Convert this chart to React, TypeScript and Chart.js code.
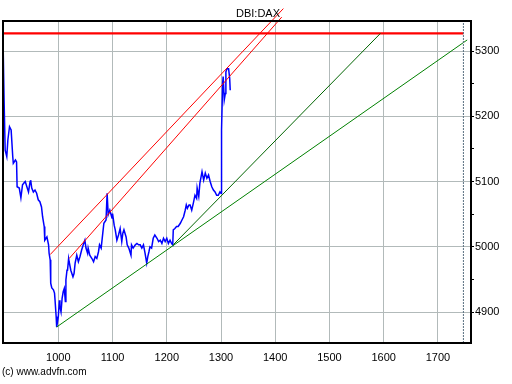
import React, { useEffect, useRef } from "react";
import { Chart, registerables } from "chart.js";

Chart.register(...registerables);

// Price series (x = trading-day index, y = DBI:DAX level)
const priceX = [
  898, 900, 902, 905, 907, 910, 913, 916, 917, 921, 923, 924, 928, 931, 934, 937, 939, 942, 945, 948,
  949, 951, 954, 957, 960, 963, 966, 969, 971, 974, 975, 979, 982, 983, 985, 986, 988, 991, 993, 994,
  996, 997, 1000, 1002, 1003, 1005, 1007, 1009, 1011, 1013, 1014, 1016, 1017, 1019, 1020, 1023, 1027, 1029, 1031, 1034,
  1037, 1040, 1043, 1046, 1049, 1051, 1054, 1055, 1058, 1062, 1065, 1068, 1071, 1074, 1076, 1079, 1082, 1084, 1088, 1090,
  1092, 1095, 1099, 1100, 1103, 1105, 1108, 1111, 1114, 1117, 1119, 1121, 1125, 1127, 1130, 1134, 1135, 1138, 1142, 1145,
  1148, 1151, 1154, 1157, 1160, 1163, 1165, 1167, 1169, 1172, 1175, 1178, 1182, 1185, 1188, 1191, 1194, 1197, 1200, 1203,
  1206, 1209, 1211, 1212, 1215, 1218, 1221, 1225, 1228, 1231, 1234, 1236, 1238, 1241, 1243, 1246, 1249, 1252, 1255, 1256,
  1259, 1261, 1265, 1268, 1271, 1274, 1277, 1280, 1283, 1286, 1289, 1292, 1295, 1298, 1300, 1301, 1303, 1304, 1306, 1308,
  1309, 1311, 1314, 1316, 1317,
];
const priceY = [
  5320, 5225, 5148, 5138, 5164, 5184, 5179, 5138, 5128, 5133, 5130, 5092, 5090, 5075, 5095, 5098, 5100, 5092, 5084, 5100,
  5102, 5090, 5084, 5087, 5082, 5072, 5069, 5061, 5046, 5031, 5010, 5015, 5003, 4990, 4980, 4944, 4937, 4934, 4929, 4918,
  4893, 4877, 4893, 4918, 4908, 4900, 4921, 4931, 4936, 4916, 4949, 4964, 4964, 4982, 4977, 4964, 4954, 4959, 4975, 4987,
  4977, 4985, 4995, 5003, 5010, 4998, 4990, 4998, 4987, 4982, 4977, 4985, 4982, 4992, 5003, 4998, 5021, 5036, 5041, 5082,
  5049, 5056, 5044, 5051, 5033, 5026, 5010, 5018, 5028, 5008, 5021, 5026, 5015, 5003, 4998, 4987, 5003, 4998, 5003, 5005,
  5003, 5003, 4998, 5003, 4990, 4975, 4985, 4992, 5000, 4998, 5013, 5018, 5013, 5008, 5010, 5005, 5013, 5008, 5013, 5005,
  5010, 5005, 5003, 5026, 5028, 5031, 5031, 5036, 5041, 5046, 5056, 5064, 5059, 5064, 5064, 5056, 5067, 5079, 5074, 5090,
  5077, 5097, 5115, 5102, 5113, 5105, 5110, 5100, 5092, 5087, 5084, 5079, 5079, 5084, 5082, 5179, 5251, 5261, 5225, 5235,
  5268, 5273, 5273, 5258, 5240,
];

// Horizontal resistance (thick red)
const resistanceX = [898, 1747];
const resistanceY = [5327, 5327];
// Red channel lines
const upperRedX = [985, 1415];
const upperRedY = [4988, 5365];
const lowerRedX = [1020, 1412];
const lowerRedY = [4982, 5352];
// Green trend lines
const steepGreenX = [1212, 1594];
const steepGreenY = [5003, 5327];
const shallowGreenX = [997, 1754];
const shallowGreenY = [4877, 5317];
// Current-date marker
const markerX = [1747, 1747];
const markerY = [4852.5, 5346];

// Axes
const xMin = 898;
const xMax = 1761;
const yMin = 4852.5;
const yMax = 5346;
const xTicks = [1000, 1100, 1200, 1300, 1400, 1500, 1600, 1700];
const yTicks = [4900, 4950, 5000, 5050, 5100, 5150, 5200, 5250, 5300];
const yLabelled = [4900, 5000, 5100, 5200, 5300];

const titleText = "DBI:DAX";
const footerText = "(c) www.advfn.com";

const FONT = '"Liberation Sans Narrow", "Liberation Sans", Arial, sans-serif';
const GRID = "#b2baba";

const pts = (xs: number[], ys: number[]) => xs.map((x, i) => ({ x, y: ys[i] }));

const framePlugin = {
  id: "frame",
  afterDatasetsDraw(chart: any) {
    const { ctx, chartArea } = chart;
    ctx.save();
    ctx.strokeStyle = "#000";
    ctx.lineWidth = 2;
    ctx.strokeRect(chartArea.left, chartArea.top, chartArea.right - chartArea.left, chartArea.bottom - chartArea.top);
    ctx.restore();
  },
  afterDraw(chart: any) {
    const { ctx } = chart;
    ctx.save();
    ctx.fillStyle = "#000";
    ctx.font = `11px ${FONT}`;
    ctx.textAlign = "center";
    ctx.textBaseline = "alphabetic";
    ctx.fillText(titleText, 258, 17);
    ctx.font = `10px ${FONT}`;
    ctx.textAlign = "left";
    ctx.fillText(footerText, 2, 375);
    ctx.restore();
  },
};

export default function App() {
  const ref = useRef<HTMLCanvasElement>(null);
  useEffect(() => {
    if (!ref.current) return;
    const line = (data: any, color: string, width: number, extra: any = {}) => ({
      data,
      borderColor: color,
      backgroundColor: color,
      borderWidth: width,
      pointRadius: 0,
      tension: 0,
      fill: false,
      ...extra,
    });
    const chart = new Chart(ref.current, {
      type: "line",
      data: {
        datasets: [
          line(pts(markerX, markerY), "#5a6f80", 1, { borderDash: [2, 1] }),
          line(pts(shallowGreenX, shallowGreenY), "#008000", 1, { clip: false }),
          line(pts(steepGreenX, steepGreenY), "#006400", 1, { clip: false }),
          line(pts(upperRedX, upperRedY), "#ff0000", 1, { clip: false }),
          line(pts(lowerRedX, lowerRedY), "#ff0000", 1, { clip: false }),
          line(pts(priceX, priceY), "#0000ff", 1.5),
          line(pts(resistanceX, resistanceY), "#ff0000", 2.2),
        ] as any,
      },
      options: {
        responsive: false,
        animation: false,
        devicePixelRatio: 1,
        layout: { padding: { left: 3, top: 21, right: 0, bottom: 0 } },
        plugins: {
          legend: { display: false },
          tooltip: { enabled: false },
          title: { display: false },
        },
        scales: {
          x: {
            type: "linear",
            position: "bottom",
            min: xMin,
            max: xMax,
            afterBuildTicks: (s: any) => {
              s.ticks = xTicks.map((v) => ({ value: v }));
            },
            afterFit: (s: any) => {
              s.height = 41;
            },
            grid: { color: GRID, lineWidth: 1, drawTicks: false },
            border: { display: false },
            ticks: {
              color: "#000",
              padding: 8,
              maxRotation: 0,
              font: { family: FONT, size: 11 },
              callback: (v: any) => String(v),
            },
          },
          y: {
            type: "linear",
            position: "right",
            min: yMin,
            max: yMax,
            afterBuildTicks: (s: any) => {
              s.ticks = yTicks.map((v) => ({ value: v }));
            },
            afterFit: (s: any) => {
              s.width = 41;
            },
            grid: {
              color: (c: any) => (yLabelled.includes(c.tick?.value) ? GRID : "rgba(0,0,0,0)"),
              tickColor: "#000",
              tickLength: 3,
              lineWidth: 1,
            },
            border: { display: false },
            ticks: {
              color: "#000",
              padding: 1,
              font: { family: FONT, size: 11 },
              callback: (v: any) => (yLabelled.includes(v) ? String(v) : ""),
            },
          },
        },
      } as any,
      plugins: [framePlugin],
    });
    return () => chart.destroy();
  }, []);
  return (
    <div style={{ position: "absolute", left: 0, top: 0, width: 512, height: 384, background: "#fff" }}>
      <canvas ref={ref} width={512} height={384} style={{ display: "block" }} />
    </div>
  );
}
